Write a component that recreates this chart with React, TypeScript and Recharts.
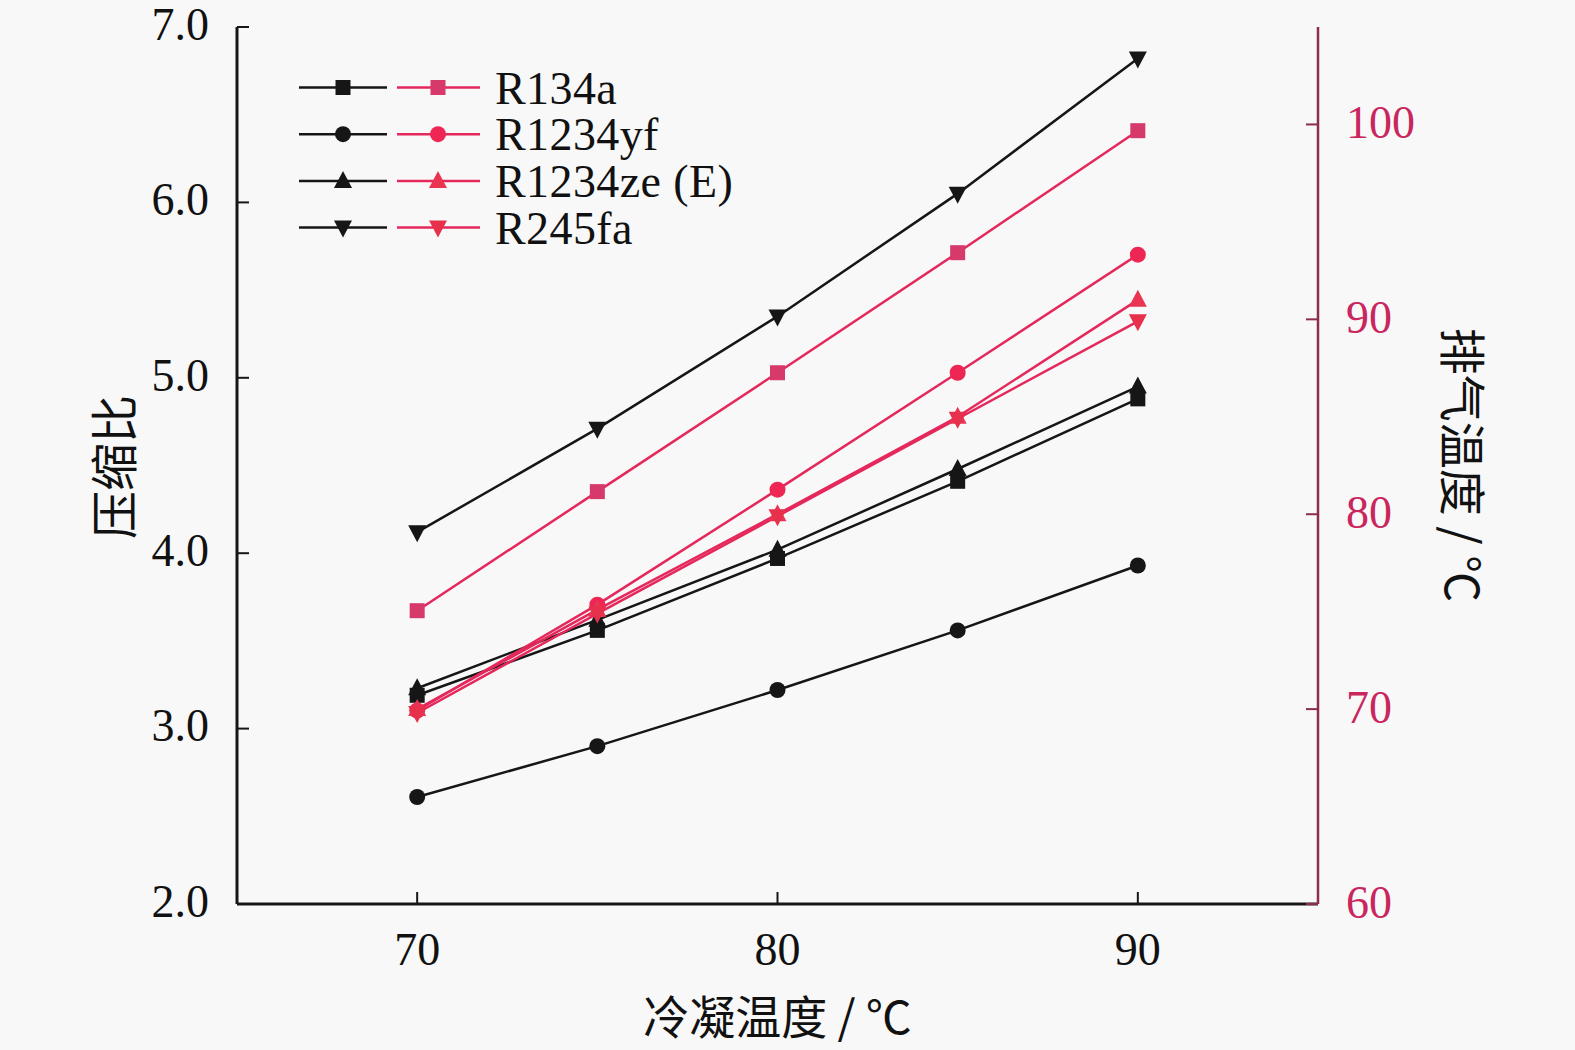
import React from "react";
import { LineChart, Line, XAxis, YAxis } from "recharts";

const temps = [70, 75, 80, 85, 90];
const seriesNames = ["R134a", "R1234yf", "R1234ze (E)", "R245fa"];
const markerShapes = ["square", "circle", "triangle", "down"];

// compression ratio (left axis)
const crR134a = [3.19, 3.56, 3.97, 4.41, 4.88];
const crR1234yf = [2.61, 2.9, 3.22, 3.56, 3.93];
const crR1234ze = [3.23, 3.62, 4.02, 4.48, 4.95];
const crR245fa = [4.12, 4.71, 5.35, 6.05, 6.82];

// discharge temperature (right axis)
const dtR134a = [75.05, 81.16, 87.26, 93.42, 99.68];
const dtR1234yf = [69.93, 75.36, 81.26, 87.26, 93.32];
const dtR1234ze = [70.0, 75.1, 80.0, 85.0, 91.0];
const dtR245fa = [69.8, 74.9, 79.9, 84.9, 89.9];

const xTicks = [70, 80, 90];
const leftTicks = [2, 3, 4, 5, 6, 7];
const rightTicks = [60, 70, 80, 90, 100];

const crSeries = [crR134a, crR1234yf, crR1234ze, crR245fa];
const dtSeries = [dtR134a, dtR1234yf, dtR1234ze, dtR245fa];

const data = temps.map((t, i) => {
  const row: any = { t };
  crSeries.forEach((s, k) => (row["cr" + k] = s[i]));
  dtSeries.forEach((s, k) => (row["dt" + k] = s[i]));
  return row;
});

const BLACK = "#161616";
const RED_LINE = "#e5285c";
const RED_MARK = ["#d63a6b", "#ee2654", "#e93552", "#e6304c"];
const AXIS_RED = "#8e2c4e";
const TICK_RED = "#c9265d";
const FONT = "'Liberation Serif', 'Noto Sans CJK SC', serif";
const CJK = "'Noto Sans CJK SC', 'Liberation Serif', serif";

function marker(shape: string, cx: number, cy: number, fill: string, key?: any) {
  if (shape === "square")
    return <rect key={key} x={cx - 7.5} y={cy - 7.5} width={15} height={15} fill={fill} />;
  if (shape === "circle") return <circle key={key} cx={cx} cy={cy} r={8} fill={fill} />;
  if (shape === "triangle")
    return (
      <polygon key={key} points={`${cx},${cy - 10} ${cx + 9},${cy + 7} ${cx - 9},${cy + 7}`} fill={fill} />
    );
  return (
    <polygon key={key} points={`${cx},${cy + 10} ${cx + 9},${cy - 7} ${cx - 9},${cy - 7}`} fill={fill} />
  );
}

const makeDot = (shape: string, fill: string) => (props: any) => {
  const { cx, cy, index } = props;
  if (cx == null || cy == null) return <g key={index} />;
  return <g key={index}>{marker(shape, cx, cy, fill)}</g>;
};

const M = 28;

const LeftTick = (props: any) => {
  const { x, y, payload } = props;
  const ax = x + M;
  return (
    <g>
      <line x1={ax} y1={y} x2={ax + 12} y2={y} stroke={BLACK} strokeWidth={2} />
      <text x={x} y={y} dy="0.28em" textAnchor="end" fontFamily={FONT} fontSize={46} fill="#111">
        {Number(payload.value).toFixed(1)}
      </text>
    </g>
  );
};

const RightTick = (props: any) => {
  const { x, y, payload } = props;
  const ax = x - M;
  return (
    <g>
      <line x1={ax - 12} y1={y} x2={ax} y2={y} stroke={AXIS_RED} strokeWidth={2} />
      <text x={x} y={y} dy="0.3em" textAnchor="start" fontFamily={FONT} fontSize={46} fill={TICK_RED}>
        {payload.value}
      </text>
    </g>
  );
};

const XTick = (props: any) => {
  const { x, y, payload } = props;
  const ay = y - M;
  return (
    <g>
      <line x1={x} y1={ay} x2={x} y2={ay - 12} stroke={BLACK} strokeWidth={2} />
      <text x={x} y={y} dy="0.72em" textAnchor="middle" fontFamily={FONT} fontSize={46} fill="#111">
        {payload.value}
      </text>
    </g>
  );
};

const LeftTitle = (props: any) => {
  const vb = props.viewBox || {};
  const cx = vb.x + 111;
  const cy = 467;
  return (
    <text
      x={cx}
      y={cy}
      transform={`rotate(-90 ${cx} ${cy})`}
      textAnchor="middle"
      dominantBaseline="central"
      fontFamily={CJK}
      fontSize={48}
      fill="#111"
    >
      压缩比
    </text>
  );
};

const RightTitle = (props: any) => {
  const vb = props.viewBox || {};
  const cx = vb.x + 147;
  const cy = 465;
  return (
    <text
      x={cx}
      y={cy}
      transform={`rotate(90 ${cx} ${cy})`}
      textAnchor="middle"
      dominantBaseline="central"
      fontFamily={CJK}
      fontSize={47}
      fill="#111"
    >
      排气温度 / ℃
    </text>
  );
};

const XTitle = (props: any) => {
  const vb = props.viewBox || {};
  const cx = vb.x + vb.width / 2;
  const cy = vb.y + 110;
  return (
    <text x={cx} y={cy} textAnchor="middle" dominantBaseline="central" fontFamily={CJK} fontSize={46} fill="#111">
      冷凝温度 / ℃
    </text>
  );
};

function LegendOverlay() {
  const rows = seriesNames.map((name, i) => {
    const y = 87.5 + i * 46.7;
    return (
      <g key={name}>
        <line x1={299} y1={y} x2={387} y2={y} stroke={BLACK} strokeWidth={2.5} />
        {marker(markerShapes[i], 343, y, BLACK)}
        <line x1={397} y1={y} x2={480} y2={y} stroke={RED_LINE} strokeWidth={2.5} />
        {marker(markerShapes[i], 438, y, RED_MARK[i])}
        <text x={495} y={y} dy="0.35em" fontFamily={FONT} fontSize={46} letterSpacing={0.4} fill="#111">
          {name}
        </text>
      </g>
    );
  });
  return (
    <svg
      width={1575}
      height={1050}
      style={{ position: "absolute", left: 0, top: 0, pointerEvents: "none", display: "block" }}
    >
      {rows}
    </svg>
  );
}

export default function App() {
  return (
    <div
      style={{
        position: "fixed",
        left: 0,
        top: 0,
        width: 1575,
        height: 1050,
        overflow: "hidden",
        background: "#f8f8f8",
      }}
    >
      <LineChart
        width={1575}
        height={1050}
        data={data}
        margin={{ top: 27, right: 0, bottom: 0, left: 0 }}
        style={{ display: "block" }}
      >
        <XAxis
          dataKey="t"
          type="number"
          domain={[65, 95]}
          ticks={xTicks}
          height={146}
          tickSize={0}
          tickMargin={M}
          tickLine={false}
          axisLine={{ stroke: BLACK, strokeWidth: 3 }}
          tick={<XTick />}
          label={<XTitle />}
        />
        <YAxis
          yAxisId="left"
          orientation="left"
          domain={[2, 7]}
          ticks={leftTicks}
          width={237}
          tickSize={0}
          tickMargin={M}
          tickLine={false}
          axisLine={{ stroke: BLACK, strokeWidth: 3 }}
          tick={<LeftTick />}
          label={<LeftTitle />}
        />
        <YAxis
          yAxisId="right"
          orientation="right"
          domain={[60, 105]}
          ticks={rightTicks}
          width={257}
          tickSize={0}
          tickMargin={M}
          tickLine={false}
          axisLine={{ stroke: AXIS_RED, strokeWidth: 2.5 }}
          tick={<RightTick />}
          label={<RightTitle />}
        />
        {crSeries.map((_, k) => (
          <Line
            key={"cr" + k}
            yAxisId="left"
            dataKey={"cr" + k}
            stroke={BLACK}
            strokeWidth={2.5}
            dot={makeDot(markerShapes[k], BLACK)}
            activeDot={false}
            isAnimationActive={false}
          />
        ))}
        {dtSeries.map((_, k) => (
          <Line
            key={"dt" + k}
            yAxisId="right"
            dataKey={"dt" + k}
            stroke={RED_LINE}
            strokeWidth={2.5}
            dot={makeDot(markerShapes[k], RED_MARK[k])}
            activeDot={false}
            isAnimationActive={false}
          />
        ))}
      </LineChart>
      <LegendOverlay />
    </div>
  );
}
